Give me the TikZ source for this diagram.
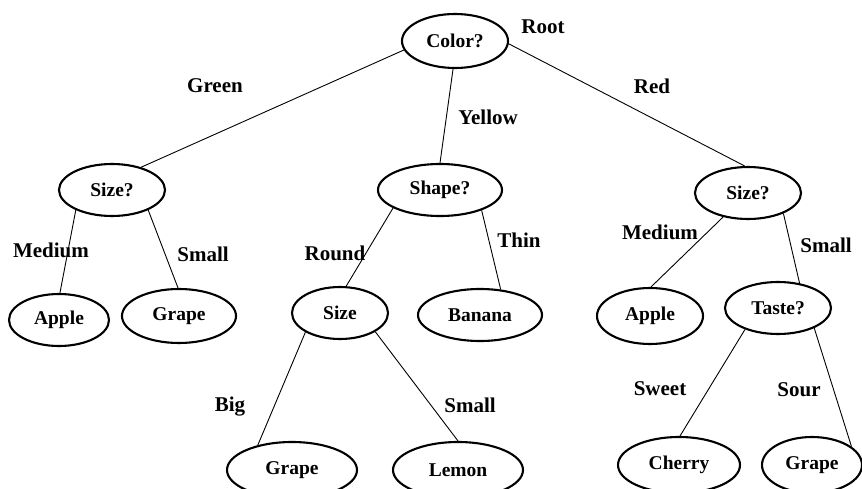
\documentclass[tikz,border=0pt]{standalone}
\usepackage{fontspec}
\setmainfont{Liberation Serif}
\usetikzlibrary{shapes.geometric}
\tikzset{
  tnode/.style={ellipse, draw=black, line width=2.1pt, inner sep=0pt,
    font=\fontsize{19.5}{21}\selectfont\bfseries},
  elabel/.style={font=\fontsize{21}{23}\selectfont\bfseries, inner sep=0pt},
  edge/.style={draw=black, line width=0.9pt}
}
\begin{document}
\begin{tikzpicture}[x=1pt,y=-1pt]
\useasboundingbox (0,0) rectangle (862,489);
\clip (0,0) rectangle (862,489);
% nodes
\node[tnode, minimum width=106pt, minimum height=54pt] (root) at (455,41) {Color?};
\node[tnode, minimum width=106pt, minimum height=52pt] (sizeL) at (112,190) {Size?};
\node[tnode, minimum width=100pt, minimum height=52pt] (appleL) at (59,320) {Apple};
\node[tnode, minimum width=114pt, minimum height=54pt] (grapeL) at (179,316) {Grape};
\node[tnode, minimum width=124pt, minimum height=52pt] (shape) at (440,190) {Shape?};
\node[tnode, minimum width=96pt, minimum height=52pt] (sizeM) at (340,313) {Size};
\node[tnode, minimum width=124pt, minimum height=52pt] (banana) at (480,315) {Banana};
\node[tnode, minimum width=106pt, minimum height=52pt] (sizeR) at (748,193) {Size?};
\node[tnode, minimum width=106pt, minimum height=56pt] (appleR) at (650,316) {Apple};
\node[tnode, minimum width=106pt, minimum height=52pt] (taste) at (778,308) {Taste?};
\node[tnode, minimum width=130pt, minimum height=56pt] (grapeB) at (292,470) {Grape};
\node[tnode, minimum width=130pt, minimum height=56pt] (lemon) at (458,470) {Lemon};
\node[tnode, minimum width=122pt, minimum height=56pt] (cherry) at (679,465) {Cherry};
\node[tnode, minimum width=100pt, minimum height=56pt] (grapeR) at (812,465) {Grape};
% edges
\draw[edge] (root.190) -- (sizeL.38);
\draw[edge] (root.266) -- (shape.90);
\draw[edge] (root.357) -- (sizeR.97);
\draw[edge] (sizeL.209) -- (appleL.88);
\draw[edge] (sizeL.331) -- (grapeL.92);
\draw[edge] (shape.201) -- (sizeM.77);
\draw[edge] (shape.334) -- (banana.51);
\draw[edge] (sizeM.209) -- (grapeB.144);
\draw[edge] (sizeM.332) -- (lemon.90);
\draw[edge] (sizeR.224) -- (appleR.88);
\draw[edge] (sizeR.330) -- (taste.49);
\draw[edge] (taste.213) -- (cherry.88);
\draw[edge] (taste.331) -- (grapeR.25);
% labels
\node[elabel] (lroot) at (543,27) {Root};
\node[elabel] (lgreen) at (215,86) {Green};
\node[elabel] (lyellow) at (488,117) {Yellow};
\node[elabel] (lred) at (652,86) {Red};
\node[elabel] (lmedL) at (51,250) {Medium};
\node[elabel] (lsmallL) at (203,254) {Small};
\node[elabel] (lround) at (335,253) {Round};
\node[elabel] (lthin) at (519,240) {Thin};
\node[elabel] (lmedR) at (660,232) {Medium};
\node[elabel] (lsmallR) at (826,245) {Small};
\node[elabel] (lbig) at (230,407) {Big};
\node[elabel] (lsmallM) at (470,405) {Small};
\node[elabel] (lsweet) at (660,389) {Sweet};
\node[elabel] (lsour) at (799,390) {Sour};
\end{tikzpicture}
\end{document}
